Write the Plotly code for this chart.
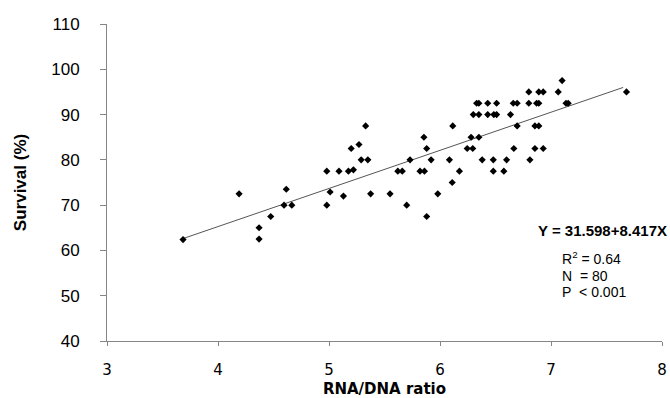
import plotly.graph_objects as go

# RNA/DNA ratio (x) and survival % (y)
rna_dna = [3.685, 4.19, 4.37, 4.37, 4.475, 4.595, 4.615, 4.665, 4.98, 4.98,
           5.01, 5.09, 5.13, 5.175, 5.20, 5.22, 5.27, 5.29, 5.33, 5.35,
           5.375, 5.55, 5.62, 5.66, 5.70, 5.73, 5.82, 5.855, 5.86, 5.88,
           5.88, 5.92, 5.98, 6.085, 6.11, 6.115, 6.175, 6.245, 6.28, 6.295,
           6.30, 6.33, 6.35, 6.35, 6.35, 6.38, 6.43, 6.43, 6.48, 6.48,
           6.485, 6.51, 6.51, 6.575, 6.60, 6.635, 6.66, 6.665, 6.695, 6.695,
           6.80, 6.80, 6.81, 6.855, 6.855, 6.87, 6.89, 6.89, 6.89, 6.93,
           6.93, 7.065, 7.10, 7.135, 7.155, 7.68]
survival = [62.4, 72.5, 65.0, 62.5, 67.5, 70.0, 73.5, 70.0, 70.0, 77.5,
            72.9, 77.5, 72.0, 77.5, 82.5, 77.8, 83.4, 80.0, 87.5, 80.0,
            72.5, 72.5, 77.5, 77.5, 70.0, 80.0, 77.5, 85.0, 77.5, 82.5,
            67.5, 80.0, 72.5, 80.0, 75.0, 87.5, 77.5, 82.5, 85.0, 82.5,
            90.0, 92.5, 92.5, 90.0, 85.0, 80.0, 92.5, 90.0, 80.0, 77.5,
            90.0, 90.0, 92.5, 77.5, 80.0, 90.0, 92.5, 82.5, 92.5, 87.5,
            95.0, 92.5, 80.0, 82.5, 87.5, 92.5, 95.0, 92.5, 87.5, 95.0,
            82.5, 95.0, 97.5, 92.5, 92.5, 95.0]

# Regression line Y = a + bX, drawn over the data range
intercept = 31.598
slope = 8.417
fit_x = [3.68, 7.65]
fit_y = [intercept + slope * x for x in fit_x]

x_ticks = [3, 4, 5, 6, 7, 8]
y_ticks = [40, 50, 60, 70, 80, 90, 100, 110]

fig = go.Figure()
fig.add_trace(go.Scatter(x=fit_x, y=fit_y, mode="lines",
                         line=dict(color="#555555", width=1), showlegend=False))
fig.add_trace(go.Scatter(x=rna_dna, y=survival, mode="markers",
                         marker=dict(symbol="diamond", size=5.5, color="black"),
                         showlegend=False))

axis_col = "#868686"
fig.update_layout(
    width=670, height=398,
    margin=dict(l=107, r=8, t=24, b=57),
    paper_bgcolor="white", plot_bgcolor="white",
    xaxis=dict(range=[3, 8], tickvals=x_ticks, showgrid=False, zeroline=False,
               automargin=False,
               showline=True, linecolor=axis_col, linewidth=1,
               ticks="outside", ticklen=4, tickcolor=axis_col,
               tickfont=dict(family="DejaVu Sans", size=15, color="black"),
               ticklabelstandoff=11,
               title=dict(text="<b>RNA/DNA ratio</b>", standoff=7,
                          font=dict(family="DejaVu Sans", size=15, color="black"))),
    yaxis=dict(range=[40, 110], tickvals=y_ticks, showgrid=False, zeroline=False,
               automargin=False,
               showline=True, linecolor=axis_col, linewidth=1,
               ticks="outside", ticklen=6, tickcolor=axis_col,
               tickfont=dict(family="Liberation Sans", size=17, color="black"),
               ticklabelstandoff=17,
               title=dict(text="<b>Survival (%)</b>", standoff=20,
                          font=dict(family="Liberation Sans", size=17, color="black"))),
    annotations=[
        dict(text="<b>Y = 31.598+8.417X</b>", xref="paper", yref="paper",
             x=1.012, y=0.35, xanchor="right", yanchor="middle", showarrow=False,
             font=dict(family="Liberation Sans", size=15, color="black")),
        dict(text="R<sup>2</sup> = 0.64", xref="paper", yref="paper",
             x=0.817, y=0.262, xanchor="left", yanchor="middle", showarrow=False,
             font=dict(family="Liberation Sans", size=14, color="black")),
        dict(text="N\u00a0 = 80", xref="paper", yref="paper",
             x=0.817, y=0.206, xanchor="left", yanchor="middle", showarrow=False,
             font=dict(family="Liberation Sans", size=14, color="black")),
        dict(text="P\u00a0 < 0.001", xref="paper", yref="paper",
             x=0.817, y=0.155, xanchor="left", yanchor="middle", showarrow=False,
             font=dict(family="Liberation Sans", size=14, color="black")),
    ],
)

fig.write_html("out.html", config={"displayModeBar": False},
               post_script="document.body.style.margin='0';document.body.style.overflow='hidden';")
